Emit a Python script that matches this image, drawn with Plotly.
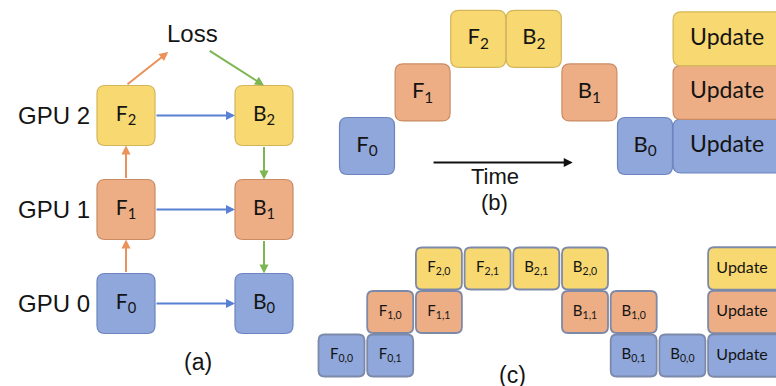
import plotly.graph_objects as go

W, H = 776, 386

# ---- data -------------------------------------------------------------
gpu_labels = ["GPU 0", "GPU 1", "GPU 2"]
stage_fill = ["#8FA7DA", "#EDAE85", "#F8D870"]   # GPU 0, 1, 2
stage_edge = ["#6C84BF", "#C98B63", "#D3B65C"]
grid_edge_c = "#7D89A9"

# (a) one forward and one backward pass per GPU
a_ops = ["F", "F", "F", "B", "B", "B"]
a_stage = [0, 1, 2, 0, 1, 2]
a_col = [0, 0, 0, 1, 1, 1]

# (b) naive model parallel schedule: one batch
b_ops = ["F", "F", "F", "B", "B", "B"]
b_stage = [0, 1, 2, 2, 1, 0]
b_slot = [0, 1, 2, 3, 4, 5]

# (c) pipelined schedule: two micro-batches
c_ops = ["F", "F", "F", "F", "F", "F", "B", "B", "B", "B", "B", "B"]
c_stage = [0, 0, 1, 1, 2, 2, 2, 2, 1, 1, 0, 0]
c_micro = [0, 1, 0, 1, 0, 1, 1, 0, 1, 0, 1, 0]
c_slot = [0, 1, 1, 2, 2, 3, 4, 5, 5, 6, 6, 7]

update_label = "Update"

# ---- panel geometry (pixel origin / pixel step of one data unit) -------
PA = dict(x0=126, dx=138, y0=303.5, dy=-94, bw=58, bh=60, r=8)
PB = dict(x0=367, dx=55.6, y0=146, dy=-53.6, bw=55, bh=57, r=8)
PC = dict(x0=341.5, dx=48.7, y0=355.5, dy=-43.5, bw=46, bh=42, r=6)

TEXT = "#141414"
SANS = "Liberation Sans, Arial, sans-serif"
BOXF = "Lato, Open Sans, sans-serif"


def axis_range(origin, step, span):
    return sorted([(0 - origin) / step, (span - origin) / step])


def rounded_path(cx, cy, w, h, r, p):
    # w, h, r given in pixels, converted into the panel's data units
    hx, hy = w / 2 / abs(p["dx"]), h / 2 / abs(p["dy"])
    rx, ry = r / abs(p["dx"]), r / abs(p["dy"])
    x0, x1, y0, y1 = cx - hx, cx + hx, cy - hy, cy + hy
    return (f"M{x0+rx},{y0} L{x1-rx},{y0} Q{x1},{y0} {x1},{y0+ry} "
            f"L{x1},{y1-ry} Q{x1},{y1} {x1-rx},{y1} L{x0+rx},{y1} "
            f"Q{x0},{y1} {x0},{y1-ry} L{x0},{y0+ry} Q{x0},{y0} {x0+rx},{y0} Z")


def box(cx, cy, w, h, p, ax, fill, edge, lw):
    return dict(type="path", path=rounded_path(cx, cy, w, h, p["r"], p),
                xref="x" + ax, yref="y" + ax, fillcolor=fill,
                line=dict(color=edge, width=lw), layer="below")


fig = go.Figure()
shapes, annos = [], []

# ---- (a) --------------------------------------------------------------
hx_a = PA["bw"] / 2 / PA["dx"]
hy_a = PA["bh"] / 2 / abs(PA["dy"])
for op, g, c in zip(a_ops, a_stage, a_col):
    shapes.append(box(c, g, PA["bw"], PA["bh"], PA, "", stage_fill[g], stage_edge[g], 1.2))
fig.add_trace(go.Scatter(
    x=a_col, y=a_stage, mode="text",
    text=[f"{o}<sub>{g}</sub>" for o, g in zip(a_ops, a_stage)],
    textfont=dict(family=BOXF, size=21, color=TEXT),
    xaxis="x", yaxis="y", hoverinfo="skip"))

for g, lab in enumerate(gpu_labels):
    annos.append(dict(x=-hx_a - 5 / PA["dx"], y=g, xref="x", yref="y", text=lab,
                      showarrow=False, xanchor="right", yanchor="middle",
                      font=dict(family=SANS, size=24, color=TEXT)))

ORANGE, BLUE, GREEN = "#EA925A", "#5A80D4", "#7DB551"


def arrow(x0, y0, x1, y1, color, ax="", width=2):
    return dict(x=x1, y=y1, ax=x0, ay=y0, xref="x" + ax, yref="y" + ax,
                axref="x" + ax, ayref="y" + ax, text="", showarrow=True,
                arrowhead=2, arrowsize=0.9, arrowwidth=width, arrowcolor=color,
                standoff=0, startstandoff=0)


for g in range(3):
    annos.append(arrow(hx_a, g, 1 - hx_a, g, BLUE))
for g in range(2):
    annos.append(arrow(0, g + hy_a, 0, g + 1 - hy_a, ORANGE))
    annos.append(arrow(1, g + 1 - hy_a, 1, g + hy_a, GREEN))

loss_x, loss_y = 0.48, 2 + (303.5 - 33 - 2 * 94) / 94
annos.append(dict(x=loss_x, y=loss_y, xref="x", yref="y", text="Loss",
                  showarrow=False, font=dict(family=SANS, size=24, color=TEXT)))
annos.append(arrow(0, 2 + hy_a, loss_x - 24 / PA["dx"], loss_y - 19 / 94, ORANGE))
annos.append(arrow(loss_x + 16 / PA["dx"], loss_y - 17 / 94, 1, 2 + hy_a, GREEN))
annos.append(dict(x=0.52, y=-0.62, xref="x", yref="y", text="(a)", showarrow=False,
                  font=dict(family=SANS, size=23, color=TEXT)))

# ---- (b) --------------------------------------------------------------
for op, g, s in zip(b_ops, b_stage, b_slot):
    shapes.append(box(s, g, PB["bw"], PB["bh"], PB, "2", stage_fill[g], stage_edge[g], 1.2))
fig.add_trace(go.Scatter(
    x=b_slot, y=b_stage, mode="text",
    text=[f"{o}<sub>{g}</sub>" for o, g in zip(b_ops, b_stage)],
    textfont=dict(family=BOXF, size=22, color=TEXT),
    xaxis="x2", yaxis="y2", hoverinfo="skip"))

b_upd = max(b_slot) + 1
upd_left_b = b_upd - PB["bw"] / 2 / PB["dx"]
upd_w_b = 130
for g in range(3):
    cx = upd_left_b + upd_w_b / 2 / PB["dx"]
    shapes.append(box(cx, g, upd_w_b, 54, PB, "2", stage_fill[g], stage_edge[g], 1.2))
fig.add_trace(go.Scatter(
    x=[upd_left_b + 54 / PB["dx"]] * 3, y=[0, 1, 2], mode="text",
    text=[update_label] * 3,
    textfont=dict(family=BOXF, size=23, color=TEXT),
    xaxis="x2", yaxis="y2", hoverinfo="skip"))

annos.append(dict(x=3.70, y=-0.31, ax=1.17, ay=-0.31, xref="x2", yref="y2",
                  axref="x2", ayref="y2", text="", showarrow=True, arrowhead=2,
                  arrowsize=0.9, arrowwidth=2, arrowcolor="#111111", standoff=0))
annos.append(dict(x=2.30, y=-0.57, xref="x2", yref="y2", text="Time", showarrow=False,
                  font=dict(family=SANS, size=22, color=TEXT)))
annos.append(dict(x=2.29, y=-1.05, xref="x2", yref="y2", text="(b)", showarrow=False,
                  font=dict(family=SANS, size=22, color=TEXT)))

# ---- (c) --------------------------------------------------------------
for op, g, m, s in zip(c_ops, c_stage, c_micro, c_slot):
    shapes.append(box(s, g, PC["bw"], PC["bh"], PC, "3", stage_fill[g], grid_edge_c, 1.8))
fig.add_trace(go.Scatter(
    x=c_slot, y=c_stage, mode="text",
    text=[f"{o}<sub>{g},{m}</sub>" for o, g, m in zip(c_ops, c_stage, c_micro)],
    textfont=dict(family=BOXF, size=15, color=TEXT),
    xaxis="x3", yaxis="y3", hoverinfo="skip"))

c_upd = max(c_slot) + 1
upd_left_c = c_upd - PC["bw"] / 2 / PC["dx"]
upd_w_c = 110
for g in range(3):
    cx = upd_left_c + upd_w_c / 2 / PC["dx"]
    shapes.append(box(cx, g, upd_w_c, 42.5, PC, "3", stage_fill[g], grid_edge_c, 1.8))
fig.add_trace(go.Scatter(
    x=[upd_left_c + 34 / PC["dx"]] * 3, y=[0, 1, 2], mode="text",
    text=[update_label] * 3,
    textfont=dict(family=BOXF, size=16, color=TEXT),
    xaxis="x3", yaxis="y3", hoverinfo="skip"))

annos.append(dict(x=3.52, y=-0.44, xref="x3", yref="y3", text="(c)", showarrow=False,
                  font=dict(family=SANS, size=23, color=TEXT)))

# ---- layout -----------------------------------------------------------
def hidden(rng, **kw):
    d = dict(range=rng, visible=False, fixedrange=True, domain=[0, 1])
    d.update(kw)
    return d


fig.update_layout(
    width=W, height=H, margin=dict(l=0, r=0, t=0, b=0),
    paper_bgcolor="white", plot_bgcolor="white",
    showlegend=False, hovermode=False,
    xaxis=hidden(axis_range(PA["x0"], PA["dx"], W)),
    yaxis=hidden(axis_range(PA["y0"], PA["dy"], H)),
    xaxis2=hidden(axis_range(PB["x0"], PB["dx"], W), overlaying="x", anchor="y2"),
    yaxis2=hidden(axis_range(PB["y0"], PB["dy"], H), overlaying="y", anchor="x2"),
    xaxis3=hidden(axis_range(PC["x0"], PC["dx"], W), overlaying="x", anchor="y3"),
    yaxis3=hidden(axis_range(PC["y0"], PC["dy"], H), overlaying="y", anchor="x3"),
    shapes=shapes, annotations=annos,
)

fig.write_html("out.html", config=dict(displayModeBar=False))
